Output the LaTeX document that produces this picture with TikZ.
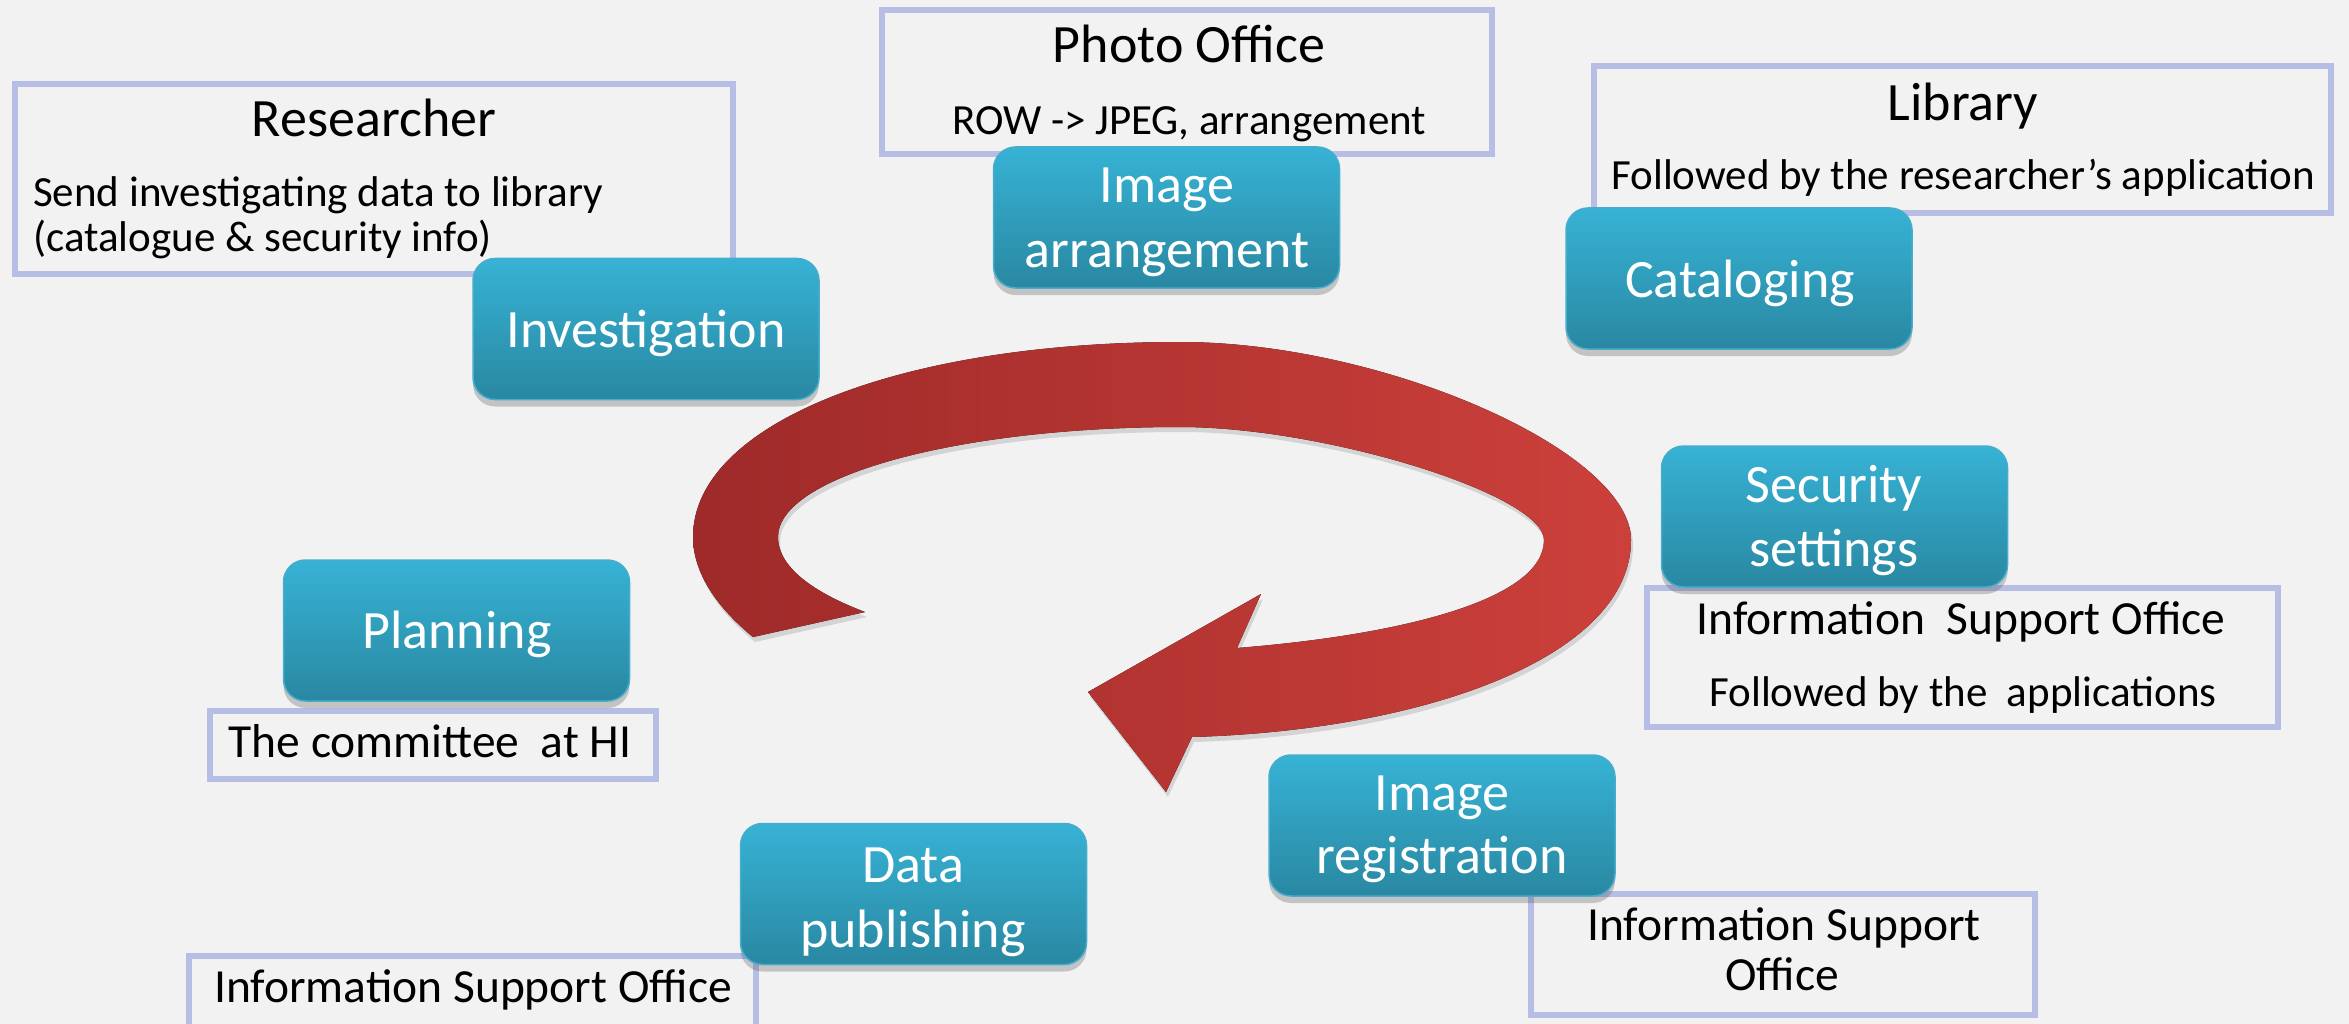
\documentclass[tikz,border=0pt]{standalone}
\usepackage{fontspec}
\setmainfont{Carlito}
\usetikzlibrary{shadows}
\definecolor{bg}{RGB}{242,242,242}
\definecolor{lav}{RGB}{182,190,230}
\definecolor{tealtop}{RGB}{55,178,213}
\definecolor{tealbot}{RGB}{41,136,162}
\definecolor{tealedge}{RGB}{72,172,204}
\definecolor{redL}{RGB}{158,42,41}
\definecolor{redR}{RGB}{204,64,59}
\newcommand\myarrowpath{(753,637) .. controls (720,610) and (693,575) .. (693,537)
 .. controls (693,424) and (898,342) .. (1180,342)
 .. controls (1383,342) and (1631,451) .. (1631,540)
 .. controls (1631,655) and (1430,730) .. (1192,737)
 -- (1166,792) -- (1088,692) -- (1261,594) -- (1237,648)
 .. controls (1400,635) and (1544,600) .. (1544,540)
 .. controls (1544,495) and (1326,427) .. (1180,427)
 .. controls (959,427) and (778,476) .. (778,537)
 .. controls (778,570) and (820,595) .. (865,612)
 -- cycle}
\tikzset{
 labelbox/.style={rectangle, draw=lav, line width=6pt, inner sep=0pt},
 stepbox/.style={rectangle, rounded corners=22pt, minimum width=346pt, minimum height=141pt,
   inner sep=0pt, top color=tealtop, bottom color=tealbot, draw=tealedge, line width=1.5pt,
   drop shadow={shadow xshift=0pt, shadow yshift=-7pt, opacity=0.28, fill=black!70}},
 steptext/.style={anchor=base, text=white, font=\fontsize{54}{65}\selectfont, inner sep=0pt},
 headtext/.style={anchor=base, font=\fontsize{54}{65}\selectfont, inner sep=0pt},
 subtext/.style={anchor=base, font=\fontsize{43}{50}\selectfont, inner sep=0pt},
 midtext/.style={anchor=base, font=\fontsize{47.5}{56}\selectfont, inner sep=0pt},
}
\begin{document}
\begin{tikzpicture}[x=1pt, y=-1pt]
\clip (0,0) rectangle (2349,1024);
\fill[bg] (0,0) rectangle (2349,1024);

% label boxes
\node[labelbox, minimum width=718pt, minimum height=190pt] (resbox) at (374,179) {};
\node[labelbox, minimum width=610pt, minimum height=144pt] (phobox) at (1187,82) {};
\node[labelbox, minimum width=737pt, minimum height=147pt] (libbox) at (1962.5,139.5) {};
\node[labelbox, minimum width=631pt, minimum height=139pt] (isrbox) at (1962.5,657.5) {};
\node[labelbox, minimum width=446pt, minimum height=68pt] (combox) at (433,745) {};
\node[labelbox, minimum width=567pt, minimum height=140pt] (islbox) at (472.5,1026) {};
\node[labelbox, minimum width=504pt, minimum height=121pt] (isbbox) at (1783,954.5) {};

% red circular arrow
\fill[black, opacity=0.12, xshift=2pt, yshift=-5pt] \myarrowpath;
\fill[left color=redL, right color=redR] \myarrowpath;

% teal step boxes
\node[stepbox] (inv) at (646,329) {};
\node[stepbox] (arr) at (1166.5,217.5) {};
\node[stepbox] (cat) at (1739,278.5) {};
\node[stepbox] (sec) at (1834.5,516.5) {};
\node[stepbox] (pla) at (456.5,630.5) {};
\node[stepbox] (pub) at (913.5,894) {};
\node[stepbox] (reg) at (1442,825.5) {};

\node[steptext] (inv-t) at (646,347) {Investigation};
\node[steptext] (arr-t1) at (1167,203) {Image};
\node[steptext] (arr-t2) at (1167,268) {arrangement};
\node[steptext] (cat-t) at (1740,297) {Cataloging};
\node[steptext] (sec-t1) at (1834,502) {Security};
\node[steptext] (sec-t2) at (1834,566) {settings};
\node[steptext] (pla-t) at (457,648) {Planning};
\node[steptext] (pub-t1) at (913,882) {Data};
\node[steptext] (pub-t2) at (913,947) {publishing};
\node[steptext] (reg-t1) at (1442,810) {Image};
\node[steptext] (reg-t2) at (1442,873) {registration};

% label texts
\node[headtext] (res-h) at (374,137) {Researcher};
\node[subtext, anchor=base west] (res-s1) at (33,207) {Send investigating data to library};
\node[subtext, anchor=base west] (res-s2) at (33,252) {(catalogue \& security info)};

\node[headtext] (pho-h) at (1189,63) {Photo Office};
\node[subtext] (pho-s) at (1189,135) {ROW -> JPEG, arrangement};

\node[headtext] (lib-h) at (1963,121) {Library};
\node[subtext] (lib-s) at (1963,190) {Followed by the researcher’s application};

\node[midtext] (isr-h) at (1961,634) {Information\ \ Support Office};
\node[subtext] (isr-s) at (1963,706) {Followed by the\ \ applications};

\node[midtext] (com-t) at (430,757) {The committee\ \ at HI};

\node[midtext] (isl-t) at (473,1002) {Information Support Office};

\node[midtext] (isb-t1) at (1784,940) {Information Support};
\node[midtext] (isb-t2) at (1782,990) {Office};
\end{tikzpicture}
\end{document}
